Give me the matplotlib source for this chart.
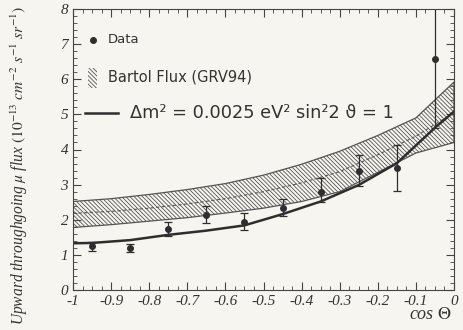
import matplotlib
matplotlib.use("Agg")
import matplotlib.pyplot as plt
from matplotlib.patches import Rectangle
from matplotlib.ticker import MultipleLocator

# measured points (Data)
cos_x = [-0.95, -0.85, -0.75, -0.65, -0.55, -0.45, -0.35, -0.25, -0.15, -0.05]
flux = [1.25, 1.19, 1.73, 2.14, 1.95, 2.34, 2.78, 3.38, 3.47, 6.57]
err_lo = [0.15, 0.12, 0.18, 0.24, 0.25, 0.24, 0.28, 0.43, 0.65, 1.95]
err_hi = [0.13, 0.13, 0.20, 0.26, 0.25, 0.26, 0.42, 0.47, 0.65, 3.0]

# Bartol flux band
band_x = [-1.0, -0.9, -0.8, -0.7, -0.6, -0.5, -0.4, -0.3, -0.2, -0.1, 0.0]
band_hi = [2.52, 2.60, 2.72, 2.86, 3.03, 3.27, 3.58, 3.95, 4.40, 4.90, 5.92]
band_lo = [1.78, 1.86, 1.96, 2.06, 2.19, 2.33, 2.52, 2.80, 3.35, 3.90, 4.20]
band_mid = [2.18, 2.24, 2.33, 2.45, 2.60, 2.80, 3.05, 3.37, 3.85, 4.38, 5.05]

# oscillation curve
osc_x = [-1.0, -0.95, -0.85, -0.75, -0.65, -0.55, -0.45, -0.35, -0.25, -0.15, -0.05, 0.0]
osc_y = [1.33, 1.34, 1.42, 1.57, 1.69, 1.84, 2.16, 2.52, 2.99, 3.61, 4.62, 5.08]

bg = "#f7f5ef"
ink = "#2e2e2e"
hatch = "\\\\\\\\\\\\\\\\"

plt.rcParams["mathtext.fontset"] = "stix"
plt.rcParams["hatch.color"] = "#555555"
plt.rcParams["hatch.linewidth"] = 0.6

fig = plt.figure(figsize=(4.63, 3.30), dpi=100, facecolor=bg)
ax = fig.add_axes([73 / 463, 40 / 330, 381 / 463, 281 / 330])
ax.set_facecolor(bg)

ax.fill_between(band_x, band_lo, band_hi, facecolor="none", edgecolor="#555555",
                hatch=hatch, linewidth=0.9)
ax.plot(band_x, band_mid, color="#555555", linestyle=(0, (3, 2)), linewidth=0.8)
ax.plot(osc_x, osc_y, color=ink, linewidth=1.8)
ax.errorbar(cos_x, flux, yerr=[err_lo, err_hi], fmt="o", color=ink, markersize=4,
            elinewidth=0.9, capsize=3, capthick=0.9)

ax.set_xlim(-1, 0)
ax.set_ylim(0, 8)
ax.xaxis.set_minor_locator(MultipleLocator(0.025))
ax.yaxis.set_major_locator(MultipleLocator(1))
ax.yaxis.set_minor_locator(MultipleLocator(0.2))
ax.tick_params(which="both", direction="in", top=True, right=True, color="#444444")
ax.tick_params(which="major", length=6, labelsize=11)
ax.tick_params(which="minor", length=3)
ax.set_xticks([-1, -0.9, -0.8, -0.7, -0.6, -0.5, -0.4, -0.3, -0.2, -0.1, 0])
ax.set_xticklabels(["-1", "-0.9", "-0.8", "-0.7", "-0.6", "-0.5", "-0.4",
                    "-0.3", "-0.2", "-0.1", "0"])
for lab in ax.get_xticklabels() + ax.get_yticklabels():
    lab.set_fontfamily("Liberation Serif")
    lab.set_fontstyle("italic")
    lab.set_color("#333333")
for sp in ax.spines.values():
    sp.set_color("#444444")

ax.set_ylabel(r"Upward throughgoing $\mu$ flux $(10^{-13}\ cm^{-2}\ s^{-1}\ sr^{-1})$",
              fontfamily="Liberation Serif", fontstyle="italic", fontsize=11.2,
              color="#333333")
ax.yaxis.set_label_coords(-0.113, 0.445)
fig.text(0.975, 0.02, r"cos $\Theta$", fontfamily="Liberation Serif", fontstyle="italic",
         fontsize=13, color="#333333", ha="right", va="bottom")

# legend drawn by hand
ax.plot([0.052], [0.89], "o", color=ink, markersize=4, transform=ax.transAxes)
ax.text(0.092, 0.89, "Data", transform=ax.transAxes, va="center", fontsize=9.5,
        color="#333333")
ax.add_patch(Rectangle((0.039, 0.72), 0.024, 0.07, transform=ax.transAxes,
                       facecolor="none", edgecolor="#555555", linewidth=0,
                       hatch=hatch))
ax.text(0.092, 0.758, "Bartol Flux (GRV94)", transform=ax.transAxes, va="center",
        fontsize=10.5, color="#333333")
ax.plot([0.031, 0.118], [0.63, 0.63], color=ink, linewidth=1.8, transform=ax.transAxes)
ax.text(0.15, 0.63, "Δm² = 0.0025 eV² sin²2 ϑ = 1", transform=ax.transAxes,
        va="center", fontsize=12.8, color="#333333")

fig.savefig("out.png", dpi=100, facecolor=bg)
